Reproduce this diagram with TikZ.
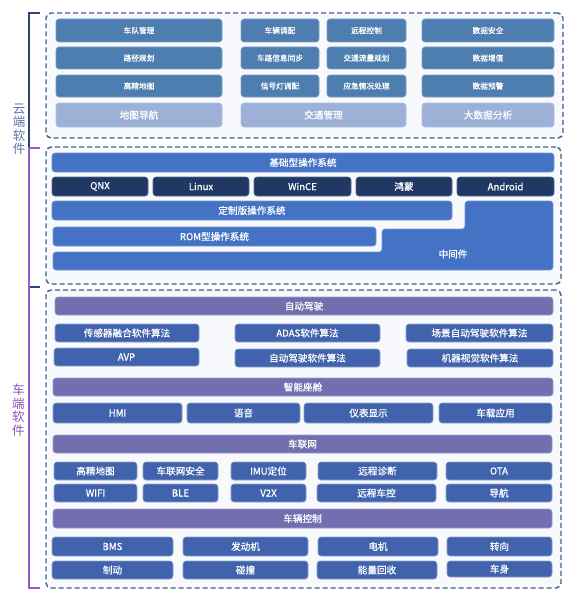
\documentclass[tikz,border=0pt]{standalone}
\usepackage{fontspec}
\setmainfont{Noto Sans CJK SC}
\newfontfamily\medfont{Noto Sans CJK SC}[FakeBold=0.8]
\definecolor{cloudblue}{RGB}{78,125,176}
\definecolor{cloudlight}{RGB}{157,176,216}
\definecolor{osblue}{RGB}{68,114,196}
\definecolor{osdark}{RGB}{32,56,100}
\definecolor{carblue}{RGB}{65,98,172}
\definecolor{purplebar}{RGB}{114,110,176}
\definecolor{frameline}{RGB}{62,95,134}
\definecolor{framefill}{RGB}{247,249,252}
\definecolor{navybr}{RGB}{46,68,112}
\definecolor{purplebr}{RGB}{150,90,205}
\definecolor{cloudlabel}{RGB}{90,115,168}
\definecolor{carlabel}{RGB}{140,80,190}
\newcommand\bx[7]{\node[#1, minimum width={(#4-#2)*1pt}, minimum height={(#5-#3)*1pt}] (#6) at ({(#2+#4)/2},{(#3+#5)/2}) {#7};}
\begin{document}
\begin{tikzpicture}[x=1pt,y=-1pt,
  base/.style={rounded corners=3pt, inner sep=0pt, outer sep=0pt, text=white, line width=0.6pt},
  frame/.style={rounded corners=5pt, inner sep=0pt, outer sep=0pt, draw=frameline, fill=framefill, line width=1.4pt, dash pattern=on 5pt off 3pt},
  cbox/.style={base, fill=cloudblue, draw=cloudblue!75!white, font=\medfont\fontsize{7.7}{9}\selectfont},
  clight/.style={base, fill=cloudlight, draw=cloudlight!80!white, font=\medfont\fontsize{9.7}{11}\selectfont},
  obox/.style={base, fill=osblue, draw=osblue!75!white, font=\medfont\fontsize{9.6}{11}\selectfont},
  dbox/.style={base, fill=osdark, draw=osdark!75!white, font=\medfont\fontsize{9.6}{11}\selectfont},
  kbox/.style={base, fill=carblue, draw=carblue!60!white, font=\medfont\fontsize{9.6}{11}\selectfont},
  pbar/.style={base, fill=purplebar, draw=purplebar!70!white, font=\medfont\fontsize{9.6}{11}\selectfont},
  vlabel/.style={align=center, inner sep=0pt, font=\fontsize{12.5}{13.5}\selectfont}
]
\useasboundingbox (0,0) rectangle (575,602);
% brackets
\draw[navybr, line width=1.3pt] (40,13) -- (29,13) -- (29,287) -- (40,287);
\draw[purplebr, line width=1.3pt] (40,148) -- (29,148) -- (29,588) -- (40,588);
\node[vlabel, text=cloudlabel] (lcloud) at (19,129) {云\\端\\软\\件};
\node[vlabel, text=carlabel] (lcar) at (18.5,410) {车\\端\\软\\件};
% frames
\bx{frame}{46}{13}{563}{138}{fcloud}{}
\bx{frame}{46}{147}{561}{284}{fos}{}
\bx{frame}{46}{290}{561}{588}{fcar}{}
% cloud
\bx{cbox}{56}{19}{222}{42}{c11}{车队管理}
\bx{cbox}{241}{19}{319}{42}{c12}{车辆调配}
\bx{cbox}{327}{19}{406}{42}{c13}{远程控制}
\bx{cbox}{422}{19}{554}{42}{c14}{数据安全}
\bx{cbox}{56}{47}{222}{69}{c21}{路径规划}
\bx{cbox}{241}{47}{319}{69}{c22}{车路信息同步}
\bx{cbox}{327}{47}{406}{69}{c23}{交通流量规划}
\bx{cbox}{422}{47}{554}{69}{c24}{数据增值}
\bx{cbox}{56}{75}{222}{97}{c31}{高精地图}
\bx{cbox}{241}{75}{319}{97}{c32}{信号灯调配}
\bx{cbox}{327}{75}{406}{97}{c33}{应急情况处理}
\bx{cbox}{422}{75}{554}{97}{c34}{数据预警}
\bx{clight}{56}{103}{222}{127}{c41}{地图导航}
\bx{clight}{241}{103}{406}{127}{c42}{交通管理}
\bx{clight}{422}{103}{554}{127}{c43}{大数据分析}
% OS
\bx{obox}{52}{153}{554}{172}{os1}{基础型操作系统}
\bx{dbox}{52}{177}{148}{196}{qnx}{QNX}
\bx{dbox}{153}{177}{249}{196}{linux}{Linux}
\bx{dbox}{254}{177}{351}{196}{wince}{WinCE}
\bx{dbox}{356}{177}{452}{196}{hm}{鸿蒙}
\bx{dbox}{457}{177}{554}{196}{android}{Android}
\bx{obox}{52}{201}{452}{220}{os2}{定制版操作系统}
\bx{obox}{53}{227}{376}{246}{os3}{ROM型操作系统}
\draw[fill=osblue, draw=osblue!75!white, line width=0.6pt, rounded corners=3pt]
  (53,252) -- (382,252) -- (382,229) -- (465,229) -- (465,201) -- (553,201) -- (553,270) -- (53,270) -- cycle;
\node[text=white, inner sep=0pt, font=\medfont\fontsize{9.6}{11}\selectfont] (mw) at (453,254) {中间件};
% car
\bx{pbar}{55}{297}{553}{315}{p1}{自动驾驶}
\bx{kbox}{55}{324}{199}{342}{a11}{传感器融合软件算法}
\bx{kbox}{235}{324}{380}{342}{a12}{ADAS软件算法}
\bx{kbox}{406}{324}{553}{342}{a13}{场景自动驾驶软件算法}
\bx{kbox}{54}{348}{199}{366}{a21}{AVP}
\bx{kbox}{235}{349}{380}{367}{a22}{自动驾驶软件算法}
\bx{kbox}{407}{349}{553}{367}{a23}{机器视觉软件算法}
\bx{pbar}{53}{378}{553}{396}{p2}{智能座舱}
\bx{kbox}{53}{403}{182}{423}{b1}{HMI}
\bx{kbox}{187}{403}{300}{423}{b2}{语音}
\bx{kbox}{304}{403}{433}{423}{b3}{仪表显示}
\bx{kbox}{439}{403}{552}{423}{b4}{车载应用}
\bx{pbar}{53}{435}{552}{453}{p3}{车联网}
\bx{kbox}{54}{462}{137}{480}{n11}{高精地图}
\bx{kbox}{143}{462}{218}{480}{n12}{车联网安全}
\bx{kbox}{231}{462}{306}{480}{n13}{IMU定位}
\bx{kbox}{318}{462}{437}{480}{n14}{远程诊断}
\bx{kbox}{446}{462}{552}{480}{n15}{OTA}
\bx{kbox}{54}{484}{137}{502}{n21}{WIFI}
\bx{kbox}{143}{484}{218}{502}{n22}{BLE}
\bx{kbox}{231}{484}{306}{502}{n23}{V2X}
\bx{kbox}{317}{484}{436}{502}{n24}{远程车控}
\bx{kbox}{446}{484}{552}{502}{n25}{导航}
\bx{pbar}{53}{509}{552}{528}{p4}{车辆控制}
\bx{kbox}{52}{537}{173}{556}{v11}{BMS}
\bx{kbox}{183}{537}{308}{556}{v12}{发动机}
\bx{kbox}{318}{537}{438}{556}{v13}{电机}
\bx{kbox}{447}{537}{552}{556}{v14}{转向}
\bx{kbox}{52}{561}{173}{579}{v21}{制动}
\bx{kbox}{183}{561}{308}{579}{v22}{碰撞}
\bx{kbox}{317}{561}{437}{579}{v23}{能量回收}
\bx{kbox}{447}{561}{552}{577}{v24}{车身}
\end{tikzpicture}
\end{document}
